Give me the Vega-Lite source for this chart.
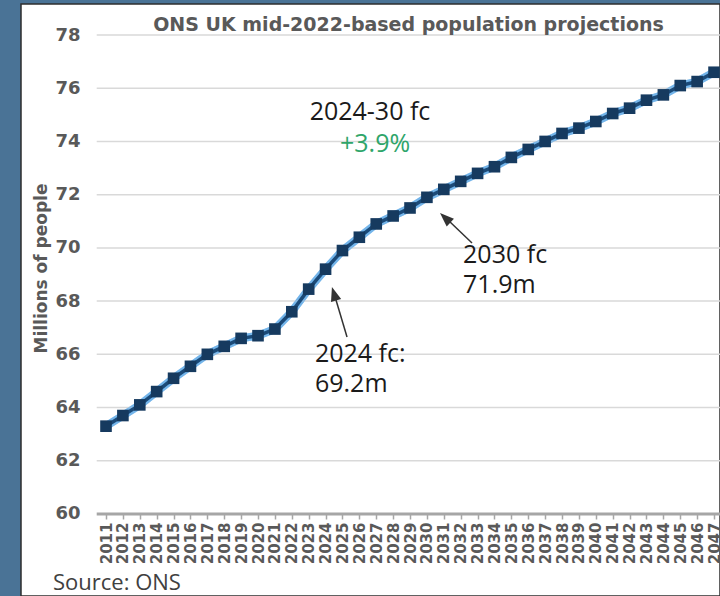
{
  "$schema": "https://vega.github.io/schema/vega-lite/v6.json",
  "width": 699,
  "height": 592,
  "autosize": {"type": "none"},
  "padding": {"left": 21, "top": 4, "right": 0, "bottom": 0},
  "background": "#4a7396",
  "config": {
    "view": {"fill": "white", "stroke": "#2e2e2e", "strokeWidth": 1.5},
    "font": "Open Sans",
    "axisX": {"labelOverlap": false, "labelBound": false, "labelFlush": false}
  },
  "title": {"text": "ONS UK mid-2022-based population projections", "font": "DejaVu Sans", "fontWeight": "bold", "fontSize": 19, "color": "#595959", "anchor": "middle", "frame": "group", "offset": -46, "baseline": "alphabetic", "dx": 38},
  "datasets": {
    "pop": [
      {"year": 2011, "value": 63.3}, {"year": 2012, "value": 63.7}, {"year": 2013, "value": 64.1},
      {"year": 2014, "value": 64.6}, {"year": 2015, "value": 65.1}, {"year": 2016, "value": 65.55},
      {"year": 2017, "value": 66.0}, {"year": 2018, "value": 66.3}, {"year": 2019, "value": 66.6},
      {"year": 2020, "value": 66.7}, {"year": 2021, "value": 66.95}, {"year": 2022, "value": 67.6},
      {"year": 2023, "value": 68.45}, {"year": 2024, "value": 69.2}, {"year": 2025, "value": 69.9},
      {"year": 2026, "value": 70.4}, {"year": 2027, "value": 70.9}, {"year": 2028, "value": 71.2},
      {"year": 2029, "value": 71.5}, {"year": 2030, "value": 71.9}, {"year": 2031, "value": 72.2},
      {"year": 2032, "value": 72.5}, {"year": 2033, "value": 72.8}, {"year": 2034, "value": 73.05},
      {"year": 2035, "value": 73.4}, {"year": 2036, "value": 73.7}, {"year": 2037, "value": 74.0},
      {"year": 2038, "value": 74.3}, {"year": 2039, "value": 74.5}, {"year": 2040, "value": 74.75},
      {"year": 2041, "value": 75.05}, {"year": 2042, "value": 75.25}, {"year": 2043, "value": 75.55},
      {"year": 2044, "value": 75.75}, {"year": 2045, "value": 76.1}, {"year": 2046, "value": 76.25},
      {"year": 2047, "value": 76.6}
    ],
    "grid": [
      {"value": 62}, {"value": 64}, {"value": 66}, {"value": 68}, {"value": 70},
      {"value": 72}, {"value": 74}, {"value": 76}, {"value": 78}
    ]
  },
  "layer": [
    {
      "data": {"name": "pop"},
      "mark": {"type": "line", "color": "#5aa6e6", "strokeWidth": 8, "opacity": 0.6},
      "encoding": {
        "x": {
          "field": "year", "type": "quantitative",
          "scale": {"domain": [2005.967, 2047.353], "nice": false, "zero": false},
          "axis": {
            "values": [2011,2012,2013,2014,2015,2016,2017,2018,2019,2020,2021,2022,2023,2024,2025,2026,2027,2028,2029,2030,2031,2032,2033,2034,2035,2036,2037,2038,2039,2040,2041,2042,2043,2044,2045,2046,2047],
            "tickCount": 60,
            "format": "d", "offset": -82, "grid": false, "domain": false,
            "ticks": true, "tickSize": 5, "tickWidth": 1.5, "tickColor": "#a6a6a6",
            "labelAngle": -90, "labelPadding": 3, "labelFont": "DejaVu Sans", "labelFontWeight": "bold",
            "labelFontSize": 15, "labelColor": "#595959", "labelOverlap": false, "labelBound": false,
            "labelFlush": false, "title": null
          }
        },
        "y": {
          "field": "value", "type": "quantitative",
          "scale": {"domain": [56.918, 79.165], "nice": false, "zero": false},
          "axis": {
            "values": [60,62,64,66,68,70,72,74,76,78],
            "tickCount": 20,
            "offset": -61, "grid": false, "domain": false, "ticks": false, "tickSize": 0,
            "labelPadding": 2, "labelFont": "DejaVu Sans", "labelFontWeight": "bold",
            "labelFontSize": 18, "labelColor": "#595959",
            "title": "Millions of people", "titleFont": "DejaVu Sans", "titleFontWeight": "bold",
            "titleFontSize": 17, "titleColor": "#595959", "titlePadding": 4, "titleY": 264
          }
        }
      }
    },
    {
      "data": {"name": "grid"},
      "mark": {"type": "rule", "color": "#d9d9d9", "strokeWidth": 1.5},
      "encoding": {
        "y": {"field": "value", "type": "quantitative"},
        "x": {"datum": 2010.45, "type": "quantitative"},
        "x2": {"datum": 2047.4}
      }
    },
    {
      "data": {"values": [{}]},
      "mark": {"type": "rule", "color": "#a6a6a6", "strokeWidth": 3},
      "encoding": {
        "y": {"datum": 60, "type": "quantitative"},
        "x": {"datum": 2010.45, "type": "quantitative"},
        "x2": {"datum": 2047.4}
      }
    },
    {
      "data": {"name": "pop"},
      "mark": {"type": "line", "color": "#5aa6e6", "strokeWidth": 8, "opacity": 0.6},
      "encoding": {
        "x": {"field": "year", "type": "quantitative"},
        "y": {"field": "value", "type": "quantitative"}
      }
    },
    {
      "data": {"name": "pop"},
      "mark": {"type": "line", "color": "#1b4a78", "strokeWidth": 3.5},
      "encoding": {
        "x": {"field": "year", "type": "quantitative"},
        "y": {"field": "value", "type": "quantitative"}
      }
    },
    {
      "data": {"name": "pop"},
      "mark": {"type": "point", "shape": "square", "filled": true, "size": 135, "color": "#163a5f", "opacity": 1},
      "encoding": {
        "x": {"field": "year", "type": "quantitative"},
        "y": {"field": "value", "type": "quantitative"}
      }
    },
    {
      "data": {"values": [{}]},
      "mark": {"type": "rule", "color": "#333333", "strokeWidth": 1.5},
      "encoding": {
        "x": {"datum": 2025.27, "type": "quantitative"},
        "y": {"datum": 66.652, "type": "quantitative"},
        "x2": {"datum": 2024.45},
        "y2": {"datum": 68.4}
      }
    },
    {
      "data": {"values": [{}]},
      "mark": {"type": "point", "shape": "M0,-1L0.75,1L-0.75,1Z", "filled": true, "size": 200, "color": "#333333", "opacity": 1, "angle": 343},
      "encoding": {
        "x": {"datum": 2024.5, "type": "quantitative"},
        "y": {"datum": 68.279, "type": "quantitative"}
      }
    },
    {
      "data": {"values": [{}]},
      "mark": {"type": "rule", "color": "#333333", "strokeWidth": 1.5},
      "encoding": {
        "x": {"datum": 2032.67, "type": "quantitative"},
        "y": {"datum": 70.184, "type": "quantitative"},
        "x2": {"datum": 2031.0},
        "y2": {"datum": 71.2}
      }
    },
    {
      "data": {"values": [{}]},
      "mark": {"type": "point", "shape": "M0,-1L0.75,1L-0.75,1Z", "filled": true, "size": 200, "color": "#333333", "opacity": 1, "angle": 313},
      "encoding": {
        "x": {"datum": 2031.08, "type": "quantitative"},
        "y": {"datum": 71.131, "type": "quantitative"}
      }
    },
    {
      "data": {"values": [{}]},
      "mark": {"type": "text", "text": "2024-30 fc", "font": "Open Sans", "fontSize": 25, "color": "#1a1a1a", "align": "center", "baseline": "alphabetic"},
      "encoding": {
        "x": {"datum": 2026.63, "type": "quantitative"},
        "y": {"datum": 74.806, "type": "quantitative"}
      }
    },
    {
      "data": {"values": [{}]},
      "mark": {"type": "text", "text": "+3.9%", "font": "Open Sans", "fontSize": 25, "color": "#2fa56a", "align": "center", "baseline": "alphabetic"},
      "encoding": {
        "x": {"datum": 2026.93, "type": "quantitative"},
        "y": {"datum": 73.604, "type": "quantitative"}
      }
    },
    {
      "data": {"values": [{}]},
      "mark": {"type": "text", "text": ["2024 fc:", "69.2m"], "lineHeight": 30, "font": "Open Sans", "fontSize": 25, "color": "#1a1a1a", "align": "left", "baseline": "alphabetic"},
      "encoding": {
        "x": {"datum": 2023.37, "type": "quantitative"},
        "y": {"datum": 65.712, "type": "quantitative"}
      }
    },
    {
      "data": {"values": [{}]},
      "mark": {"type": "text", "text": ["2030 fc", "71.9m"], "lineHeight": 30, "font": "Open Sans", "fontSize": 25, "color": "#1a1a1a", "align": "left", "baseline": "alphabetic"},
      "encoding": {
        "x": {"datum": 2032.14, "type": "quantitative"},
        "y": {"datum": 69.433, "type": "quantitative"}
      }
    },
    {
      "data": {"values": [{}]},
      "mark": {"type": "text", "text": "Source: ONS", "font": "Open Sans", "fontSize": 22, "color": "#404040", "align": "left", "baseline": "alphabetic"},
      "encoding": {
        "x": {"datum": 2007.86, "type": "quantitative"},
        "y": {"datum": 57.15, "type": "quantitative"}
      }
    }
  ]
}
